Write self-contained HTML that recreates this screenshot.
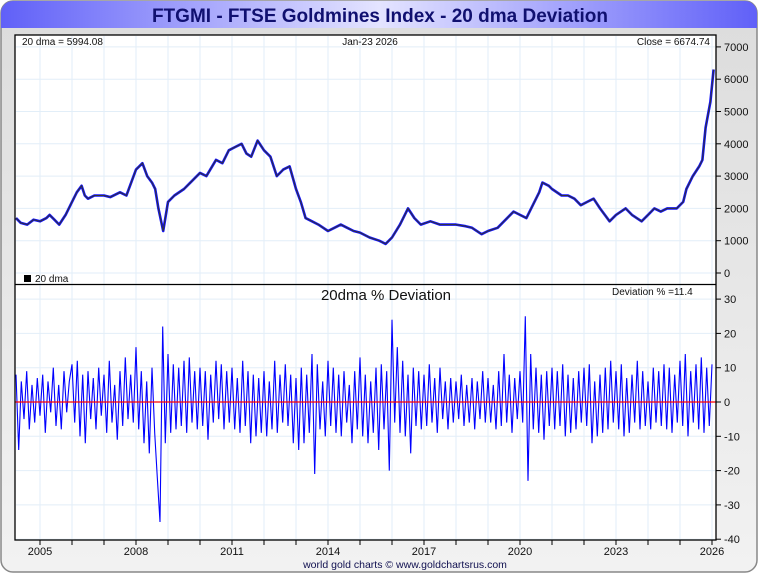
<!DOCTYPE html>
<html><head><meta charset="utf-8"><style>
body{margin:0;width:760px;height:575px;overflow:hidden;background:#fff;font-family:"Liberation Sans",sans-serif}
</style></head><body>
<svg id="c" width="760" height="575" xmlns="http://www.w3.org/2000/svg" font-family="Liberation Sans, sans-serif">
<defs>
<linearGradient id="tg" x1="0" x2="1" y1="0" y2="0"><stop offset="0" stop-color="#6060f8"/><stop offset="0.5" stop-color="#e4e4ff"/><stop offset="1" stop-color="#6060f8"/></linearGradient>
<linearGradient id="bg" x1="0" x2="0" y1="0" y2="1"><stop offset="0" stop-color="#dcdcdc"/><stop offset="1" stop-color="#f2f2f2"/></linearGradient>
</defs>
<rect x="1" y="1" width="756" height="571" rx="12" fill="url(#bg)" stroke="#888" stroke-width="1.5"/>
<path d="M1,28 L1,13 A12,12 0 0 1 13,1 L745,1 A12,12 0 0 1 757,13 L757,28 Z" fill="url(#tg)"/>
<text x="380" y="22" text-anchor="middle" font-size="19" font-weight="bold" fill="#101070">FTGMI - FTSE Goldmines Index - 20 dma Deviation</text>
<rect x="15" y="35" width="701" height="505" fill="#fff"/>
<g id="grid"></g>
<g id="marks"></g>
<rect x="15" y="35" width="701" height="505" fill="none" stroke="#000" stroke-width="1.3"/>
<line x1="15" x2="716" y1="284.5" y2="284.5" stroke="#000" stroke-width="1.3"/>
<g id="axes" font-size="11" fill="#111"></g>
<text x="22" y="45" font-size="10" fill="#111">20 dma =   5994.08</text>
<text x="370" y="45" font-size="10" text-anchor="middle" fill="#111">Jan-23  2026</text>
<text x="710" y="45" font-size="10" text-anchor="end" fill="#111">Close = 6674.74</text>
<rect x="24" y="275" width="7" height="7" fill="#000"/>
<text x="35" y="282" font-size="10" fill="#111">20 dma</text>
<text x="386" y="300" font-size="15" text-anchor="middle" fill="#111">20dma  %  Deviation</text>
<text x="612" y="295" font-size="10" fill="#111">Deviation % =11.4</text>
<text x="405" y="568" font-size="10.5" text-anchor="middle" fill="#101050">world gold charts © www.goldchartsrus.com</text>
</svg>
<script>
const priceYears=[2004.25,2004.4,2004.6,2004.8,2005.0,2005.2,2005.3,2005.45,2005.6,2005.8,2006.0,2006.15,2006.3,2006.4,2006.5,2006.7,2007.0,2007.2,2007.5,2007.7,2008.0,2008.1,2008.2,2008.35,2008.5,2008.6,2008.7,2008.85,2009.0,2009.2,2009.5,2009.7,2010.0,2010.2,2010.5,2010.7,2010.9,2011.1,2011.3,2011.45,2011.6,2011.8,2012.0,2012.2,2012.4,2012.6,2012.8,2013.0,2013.15,2013.3,2013.5,2013.7,2014.0,2014.2,2014.4,2014.6,2014.8,2015.0,2015.3,2015.6,2015.8,2016.0,2016.25,2016.5,2016.7,2016.9,2017.2,2017.5,2017.8,2018.0,2018.3,2018.5,2018.8,2019.0,2019.3,2019.5,2019.8,2020.0,2020.2,2020.4,2020.6,2020.7,2020.9,2021.0,2021.3,2021.5,2021.7,2021.9,2022.1,2022.3,2022.5,2022.8,2023.0,2023.3,2023.5,2023.8,2024.0,2024.2,2024.4,2024.6,2024.9,2025.1,2025.2,2025.4,2025.6,2025.7,2025.8,2025.95,2026.05];
const priceVals=[1700,1550,1500,1650,1600,1700,1800,1650,1500,1800,2200,2500,2700,2400,2300,2400,2400,2350,2500,2400,3200,3300,3400,3000,2800,2600,2000,1300,2200,2400,2600,2800,3100,3000,3500,3400,3800,3900,4000,3700,3600,4100,3800,3600,3000,3200,3300,2600,2200,1700,1600,1500,1300,1400,1500,1400,1300,1250,1100,1000,900,1100,1500,2000,1700,1500,1600,1500,1500,1500,1450,1400,1200,1300,1400,1600,1900,1800,1700,2100,2500,2800,2700,2600,2400,2400,2300,2100,2200,2300,2000,1600,1800,2000,1800,1600,1800,2000,1900,2000,2000,2200,2600,3000,3300,3500,4500,5300,6300];
const devStart=2004.25;
const devVals=[8,-14,6,-5,9,-8,5,-6,7,
-4,8,-9,6,-3,10,-7,5,-8,9,-3,6,
11,-6,12,-10,8,-12,9,-5,7,-8,10,-4,
8,-9,12,-6,5,-11,9,-7,13,-5,8,-6,
16,-8,9,-12,6,-15,10,-9,-22,-35,22,-12,
14,-9,11,-8,10,-7,12,-9,13,-6,9,-8,
10,-7,9,-11,8,-6,12,-5,11,-8,9,-6,
10,-8,7,-9,12,-7,9,-12,8,-10,7,-9,
9,-10,6,-8,12,-9,8,-6,11,-7,8,-12,
7,-14,10,-12,8,-9,14,-21,11,-8,6,-10,
12,-7,10,-9,8,-10,9,-6,5,-12,9,-8,
13,-10,8,-12,6,-9,10,-14,11,-8,9,-20,
24,-6,16,-9,12,-10,8,-15,10,-7,9,-8,
8,-7,11,-6,7,-9,10,-5,6,-8,7,-6,
6,-5,8,-7,5,-6,7,-8,6,-5,9,-6,
7,-6,5,-8,9,-7,14,-6,8,-9,7,-5,
9,-6,25,-23,14,-8,10,-9,8,-11,9,-7,
10,-8,9,-7,11,-10,8,-9,7,-8,9,-6,
10,-7,11,-12,6,-10,8,-9,10,-8,12,-6,
9,-8,11,-10,7,-9,8,-6,12,-8,9,-7,
6,-8,10,-6,9,-7,11,-8,10,-9,8,-6,
12,-7,14,-10,9,-6,11,-8,13,-9,10,-7,
11];
const yearTicks=[2005,2008,2011,2014,2017,2020,2023,2026];
const priceTicks=[0,1000,2000,3000,4000,5000,6000,7000];
const devTicks=[-40,-30,-20,-10,0,10,20,30];
const NS='http://www.w3.org/2000/svg';
const X=y=>40+(y-2005)*32;
const YP=v=>273-v*0.0323;
const YD=v=>402-v*3.43;
function mk(tag,attrs,parent){const e=document.createElementNS(NS,tag);for(const k in attrs)e.setAttribute(k,attrs[k]);document.getElementById(parent).appendChild(e);return e;}
for(let yr=2005;yr<=2026;yr++){const x=X(yr);
const g=mk('line',{x1:x,x2:x,y1:36,y2:539,stroke:'#e2eef8','stroke-width':1},'grid');


const t=mk('line',{x1:x,x2:x,y1:540,y2:545,stroke:'#000'},'axes');

}
priceTicks.forEach(v=>{const y=YP(v);
const g=mk('line',{x1:16,x2:715,y1:y,y2:y,stroke:'#e2eef8'},'grid');


mk('line',{x1:716,x2:721,y1:y,y2:y,stroke:'#000'},'axes');
const t=mk('text',{x:724,y:y+4},'axes');t.textContent=v;

});
devTicks.forEach(v=>{const y=YD(v);
const g=mk('line',{x1:16,x2:715,y1:y,y2:y,stroke:'#e2eef8'},'grid');


mk('line',{x1:716,x2:721,y1:y,y2:y,stroke:'#000'},'axes');
const t=mk('text',{x:724,y:y+4},'axes');t.textContent=v;

});
yearTicks.forEach(yr=>{const t=mk('text',{x:X(yr),y:555,'text-anchor':'middle'},'axes');t.textContent=yr;

});
const pp=priceYears.map((y,i)=>X(y).toFixed(1)+','+YP(priceVals[i]).toFixed(1)).join(' ');
const pb=mk('polyline',{points:pp,fill:'none',stroke:'#1010ff','stroke-width':2.6,'stroke-linejoin':'round'},'marks');


const pl=mk('polyline',{points:pp,fill:'none',stroke:'#333','stroke-width':1},'marks');


const dp=devVals.map((v,i)=>X(devStart+i/12).toFixed(1)+','+YD(v).toFixed(1)).join(' ');
const dl=mk('polyline',{points:dp,fill:'none',stroke:'#0000ff','stroke-width':1.1},'marks');


const z=mk('line',{x1:15,x2:716,y1:YD(0),y2:YD(0),stroke:'#ff0000','stroke-width':1.3},'marks');


</script>
</body></html>
